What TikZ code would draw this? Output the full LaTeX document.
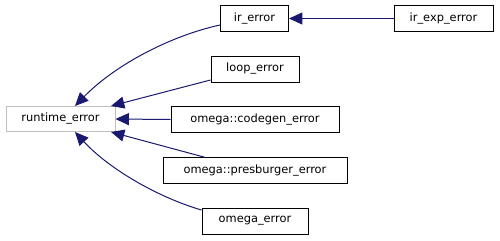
\documentclass[tikz,border=0pt]{standalone}
\usepackage{fontspec}
\setmainfont{DejaVu Sans}
\usetikzlibrary{arrows.meta}
\definecolor{edgeblue}{HTML}{191970}
\definecolor{basegrey}{HTML}{BFBFBF}
\begin{document}
\begin{tikzpicture}[x=0.75pt,y=-0.75pt,
  cls/.style={draw=black, line width=0.75pt, fill=white, inner sep=0pt,
    minimum height=19.5pt, font=\fontsize{8.55pt}{10pt}\selectfont},
  basecls/.style={cls, draw=basegrey},
  inherit/.style={draw=edgeblue, line width=0.75pt,
    -{Triangle[length=10pt,width=9pt,fill=edgeblue]}}]
\useasboundingbox (0,0) rectangle (500,240);
% classes
\node[basecls, minimum width=81.75pt, minimum height=18.75pt] (rt) at (60.5,119) {runtime\_error};
\node[cls, minimum width=51pt] (ir) at (254.5,18.5) {ir\_error};
\node[cls, minimum width=74.25pt] (irx) at (443.5,18.5) {ir\_exp\_error};
\node[cls, minimum width=66pt] (loop) at (255,69) {loop\_error};
\node[cls, minimum width=126pt, minimum height=19pt] (cg) at (255,119.5) {omega::codegen\_error};
\node[cls, minimum width=138pt, minimum height=19pt] (pb) at (255,170.5) {omega::presburger\_error};
\node[cls, minimum width=79.5pt] (om) at (255,221) {omega\_error};
% inheritance edges
\draw[inherit] (irx.west) -- (ir.east);
\draw[inherit] (ir.west |- 0,25) .. controls (170,36) and (115,65) .. (rt.north -| 75,0);
\draw[inherit] (loop.west |- 0,80) -- (rt.north east -| 111,0);
\draw[inherit] (cg.west) -- (rt.east);
\draw[inherit] (pb.north -| 205,0) -- (rt.south east -| 111,0);
\draw[inherit] (om.west |- 0,210) .. controls (160,198) and (110,170) .. (rt.south -| 75,0);
\end{tikzpicture}
\end{document}
